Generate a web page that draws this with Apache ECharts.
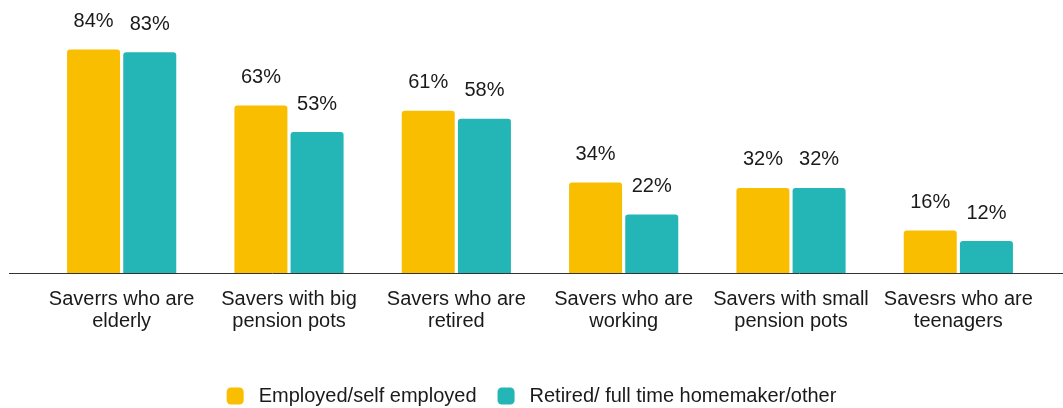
<!DOCTYPE html>
<html><head><meta charset="utf-8">
<script src="https://cdn.jsdelivr.net/npm/echarts@6/dist/echarts.min.js"></script>
<style>html,body{margin:0;padding:0;background:#fff}#c{width:1063px;height:408px}</style>
</head><body><div id="c"></div>
<script>
const categories = ["Saverrs who are\nelderly","Savers with big\npension pots","Savers who are\nretired","Savers who are\nworking","Savers with small\npension pots","Savesrs who are\nteenagers"];
const employed = [84, 63, 61, 34, 32, 16];
const retired = [83, 53, 58, 22, 32, 12];
const seriesNames = ["Employed/self employed","Retired/ full time homemaker/other"];
const colors = ["#F9BE00","#24B5B6"];
const font = "'Liberation Sans', Arial, sans-serif";
const chart = echarts.init(document.getElementById('c'), null, {renderer:'canvas'});
const lbl = {show:true, position:'top', distance:18, formatter:'{c}%', color:'#1a1a1a', fontSize:20, fontFamily:font};
chart.setOption({
  animation:false,
  grid:{left:38, right:21, top:7, bottom:135, containLabel:false},
  legend:{top:381, left:'center', itemWidth:17, itemHeight:17, itemGap:21, icon:'roundRect',
    textStyle:{fontSize:20, fontFamily:font, color:'#1a1a1a', padding:[0,0,0,10]}, data:seriesNames},
  xAxis:{type:'category', data:categories, axisLine:{show:false}, axisTick:{show:false},
    axisLabel:{fontSize:20, fontFamily:font, color:'#1a1a1a', lineHeight:22, margin:15, interval:0}},
  yAxis:{type:'value', min:0, max:100, show:false, splitLine:{show:false}},
  series:[
    {name:seriesNames[0], type:'bar', data:employed, barWidth:53, barGap:'6%', itemStyle:{color:colors[0], borderRadius:[3,3,0,0]}, label:lbl},
    {name:seriesNames[1], type:'bar', data:retired, barWidth:53, barGap:'6%', itemStyle:{color:colors[1], borderRadius:[3,3,0,0]}, label:lbl}
  ]
});
const y0 = chart.convertToPixel({yAxisIndex:0}, 0);
chart.setOption({graphic:[{type:'line', shape:{x1:9, y1:y0+0.5, x2:1063, y2:y0+0.5}, style:{stroke:'#333', lineWidth:1}, z:10}]});
</script></body></html>
